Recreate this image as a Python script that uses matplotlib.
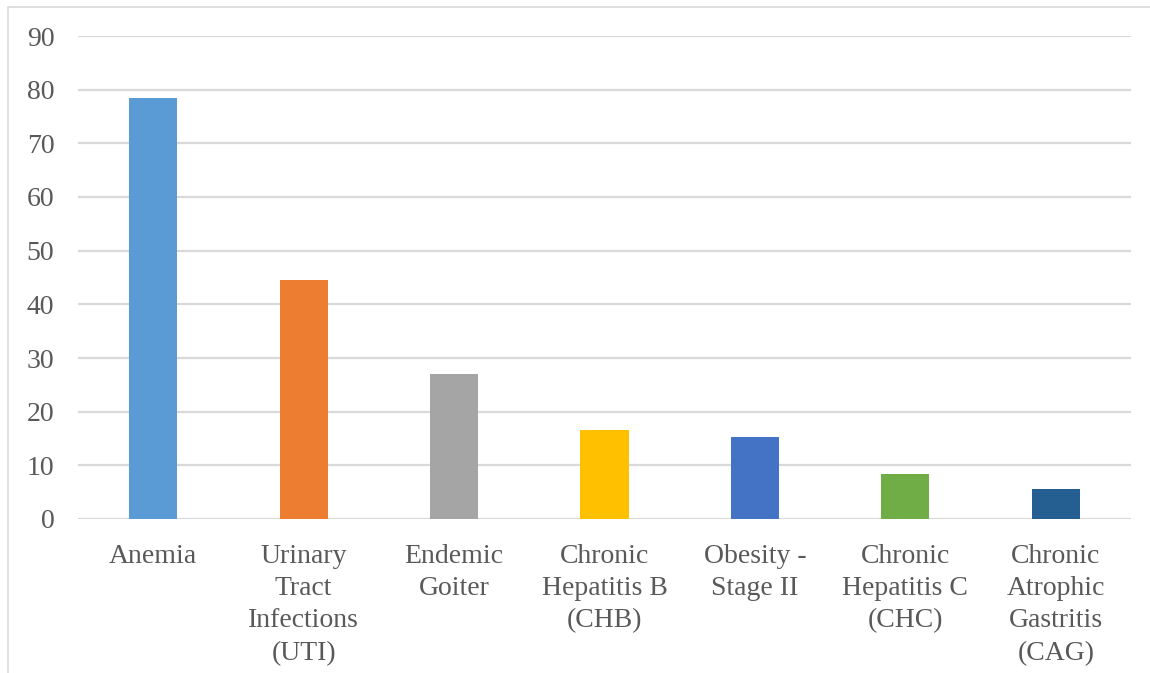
import matplotlib.pyplot as plt
from matplotlib.patches import Rectangle

# data
categories = ["Anemia", "Urinary\nTract\nInfections\n(UTI)", "Endemic\nGoiter",
              "Chronic\nHepatitis B\n(CHB)", "Obesity -\nStage II",
              "Chronic\nHepatitis C\n(CHC)", "Chronic\nAtrophic\nGastritis\n(CAG)"]
values = [78.5, 44.6, 27.1, 16.5, 15.2, 8.3, 5.5]
bar_colors = ["#5B9BD5", "#ED7D31", "#A5A5A5", "#FFC000", "#4472C4", "#70AD47", "#255E91"]
y_ticks = [0, 10, 20, 30, 40, 50, 60, 70, 80, 90]

plt.rcParams["font.family"] = ["Liberation Serif", "DejaVu Serif"]

fig = plt.figure(figsize=(11.5, 6.73), dpi=100)
ax = fig.add_axes([78 / 1150, 1 - 519 / 673, (1131 - 78) / 1150, (519 - 36) / 673])

x = range(len(categories))
ax.bar(x, values, width=0.32, color=bar_colors, zorder=3)

ax.set_xlim(-0.5, len(categories) - 0.5)
ax.set_ylim(0, 90)
ax.set_yticks(y_ticks)
ax.set_xticks(list(x))
ax.set_xticklabels(categories, linespacing=1.38)

ax.grid(axis="y", color="#D9D9D9", lw=1.6, zorder=0)
for s in ax.spines.values():
    s.set_visible(False)
ax.tick_params(axis="both", length=0, colors="#595959", labelsize=20)
ax.tick_params(axis="y", pad=17)
ax.tick_params(axis="x", pad=18)

# outer chart frame (top and left edges visible)
fig.patches.append(Rectangle((8 / 1150, -0.1), 1.2, 1 - 7 / 673 + 0.1, transform=fig.transFigure,
                             fill=False, edgecolor="#D9D9D9", lw=1.2))

fig.savefig("out.png", dpi=100)
